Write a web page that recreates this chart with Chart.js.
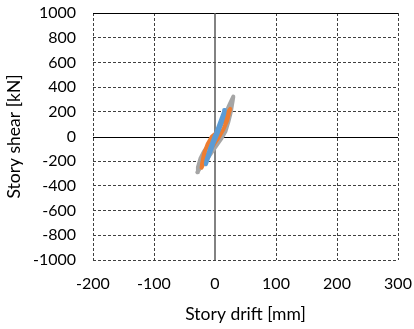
<!DOCTYPE html>
<html>
<head>
<meta charset="utf-8">
<script src="https://cdn.jsdelivr.net/npm/chart.js@4"></script>
<style>
  html, body { margin: 0; padding: 0; background: #fff; }
  #wrap { width: 414px; height: 329px; }
</style>
</head>
<body>
<div id="wrap"><canvas id="c" width="414" height="329"></canvas></div>
<script>
/* ── data: story drift [mm] / story shear [kN] ── */
const xTicks = [-200, -100, 0, 100, 200, 300];
const yTicks = [-1000, -800, -600, -400, -200, 0, 200, 400, 600, 800, 1000];

const grayX   = [0, 8, 16, 24, 30, 29, 26, 22, 17, 10, 0, -10, -20, -29, -28, -24, -18, -9, 0];
const grayY   = [0, 80, 170, 260, 323, 290, 200, 120, 40, -20, -90, -160, -220, -290, -250, -180, -120, -60, 10];
const orangeX = [0, 8, 16, 25, 23, 20, 14, 7, 0, -8, -16, -22, -21, -18, -12, -5, 0];
const orangeY = [0, 80, 160, 223, 190, 130, 60, 0, -50, -110, -190, -253, -215, -140, -60, 0, 20];
const blueX   = [0, 8, 16, 15, 10, 4, -2, -8, -15, -14, -9, -3, 0];
const blueY   = [0, 110, 215, 180, 100, 20, -50, -130, -225, -190, -110, -30, 10];

const FONT = 'Lato';

function pts(xs, ys) { return xs.map((x, i) => ({ x, y: ys[i] })); }

function loop(data, color) {
  return {
    data,
    showLine       : true,
    borderColor    : color,
    borderWidth    : 4,
    borderJoinStyle: 'round',
    borderCapStyle : 'round',
    pointRadius    : 0,
    tension        : 0,
    fill           : false,
  };
}

/* zero lines + solid top edge */
const axesLines = {
  id: 'axesLines',
  beforeDatasetsDraw(chart) {
    const { ctx, chartArea: a, scales: { x, y } } = chart;
    ctx.save();
    ctx.setLineDash([]);
    ctx.strokeStyle = '#000';
    ctx.lineWidth = 1;
    ctx.beginPath();
    ctx.moveTo(a.left, a.top + 0.5);
    ctx.lineTo(a.right, a.top + 0.5);
    const y0 = Math.round(y.getPixelForValue(0)) + 0.5;
    ctx.moveTo(a.left, y0);
    ctx.lineTo(a.right, y0);
    ctx.stroke();
    ctx.strokeStyle = '#595959';
    ctx.lineWidth = 1.5;
    ctx.beginPath();
    const x0 = x.getPixelForValue(0);
    ctx.moveTo(x0, a.top);
    ctx.lineTo(x0, a.bottom);
    ctx.stroke();
    ctx.restore();
  },
};

new Chart(document.getElementById('c'), {
  type: 'scatter',
  data: {
    datasets: [
      loop(pts(blueX, blueY), '#5B9BD5'),
      loop(pts(orangeX, orangeY), '#ED7D31'),
      loop(pts(grayX, grayY), '#A5A5A5'),
    ],
  },
  options: {
    responsive: false,
    animation : false,
    layout: { padding: { left: 0, right: 16, top: 13, bottom: 0 } },
    plugins: { legend: { display: false }, tooltip: { enabled: false } },
    scales: {
      x: {
        type: 'linear',
        min : -200,
        max : 300,
        afterBuildTicks: s => { s.ticks = xTicks.map(v => ({ value: v })); },
        afterFit: s => { s.height = 69; s.paddingLeft = 0; s.paddingRight = 0; },
        grid  : { color: c => c.tick && c.tick.value === 0 ? 'rgba(0,0,0,0)' : '#404040', tickLength: 0, lineWidth: 1 },
        border: { display: false, dash: [3, 2] },
        ticks : { color: '#000', font: { family: FONT, size: 16 }, padding: 14, maxRotation: 0, callback: v => String(v) },
        title : { display: true, text: 'Story drift [mm]', color: '#000', font: { family: FONT, size: 17.5 }, padding: { top: 2 } },
      },
      y: {
        type: 'linear',
        min : -1000,
        max : 1000,
        afterBuildTicks: s => { s.ticks = yTicks.map(v => ({ value: v })); },
        afterFit: s => { s.width = 93; s.paddingTop = 0; s.paddingBottom = 0; },
        grid  : { color: c => c.tick && (c.tick.value === 0 || c.tick.value === 1000) ? 'rgba(0,0,0,0)' : '#404040', tickLength: 0, lineWidth: 1 },
        border: { display: false, dash: [3, 2] },
        ticks : { color: '#000', font: { family: FONT, size: 16 }, padding: 17, callback: v => String(v) },
        title : { display: true, text: 'Story shear [kN]', color: '#000', font: { family: FONT, size: 17.5 }, padding: { top: 4, bottom: 0 } },
      },
    },
  },
  plugins: [axesLines],
});
</script>
</body>
</html>
